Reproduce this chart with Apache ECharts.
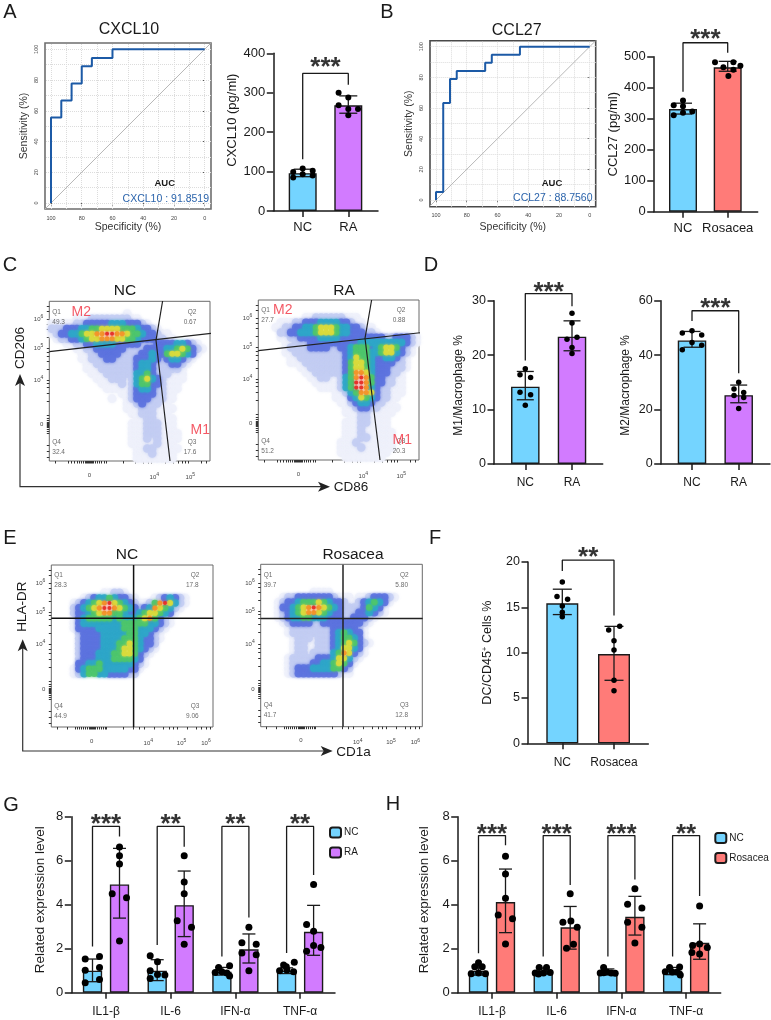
<!DOCTYPE html>
<html><head><meta charset="utf-8">
<style>html,body{margin:0;padding:0;background:#fff}#c{width:771px;height:1020px}</style>
<script src="https://cdn.jsdelivr.net/npm/echarts@6/dist/echarts.min.js"></script>
</head><body><div id="c"></div>
<script>
// ---------- DATA ----------
const rocTicks=[100,80,60,40,20,0];
const rocGridValues=[100,90,80,70,60,50,40,30,20,10,0];
const rocCxcl10=[[100,0],[100,55.6],[93.3,55.6],[93.3,66.7],[86.6,66.7],[86.6,77.8],[80,77.8],[80,88.9],[73.4,88.9],[73.4,94.4],[60,94.4],[60,100],[0,100]];
const rocCcl27=[[100,0],[100,5.3],[95.3,5.3],[95.3,63.2],[90.9,63.2],[90.9,78.9],[86.5,78.9],[86.5,84.2],[68,84.2],[68,89.5],[63.7,89.5],[63.7,94.7],[45.4,94.7],[45.4,100],[0,100]];

const cxcl10Means=[96,268], cxcl10Lo=[87,248], cxcl10Hi=[106,292];
const cxcl10NC=[108,102,99,93,90,85], cxcl10RA=[300,288,268,259,259,243];
const ccl27Means=[331,466], ccl27Lo=[315,453], ccl27Hi=[350,485];
const ccl27NC=[359,343,340,323,319,311], ccl27Ros=[482,482,471,466,458,438];
const m1Means=[14.2,23.4], m1Lo=[11.8,20.8], m1Hi=[17,26.3];
const m1NC=[17.5,16.4,15.9,13.2,12.7,10.8], m1RA=[27.7,25.9,23.3,22.9,21.4,20.3];
const m2Means=[45.4,25.3], m2Lo=[42.9,22.5], m2Hi=[48.7,29];
const m2NC=[49,48.1,47.4,44.6,43.6,42], m2RA=[30,27.6,26.3,25.2,24.4,20.4];
const dcMeans=[15.44,9.85], dcLo=[14.2,6.95], dcHi=[17,12.9];
const dcNC=[17.8,16.2,15.9,15.15,14.45,13.97], dcRos=[12.9,12.5,11.3,10.3,6.95,5.8];

const geneCats=['IL1-β','IL-6','IFN-α','TNF-α'];
const gNCMeans=[1,1,0.95,1], gNCLo=[0.5,0.55,0.8,0.87], gNCHi=[1.53,1.5,1.15,1.13];
const gRAMeans=[4.92,3.98,1.97,2.77], gRALo=[3.39,2.55,1.35,1.7], gRAHi=[6.56,5.53,2.67,3.97];
const gNCPts=[[1.53,1.64,1.02,1.15,0.6,0.45],[1.68,1.41,1,0.83,0.8,0.65],[1.23,1.15,0.95,0.92,0.9,0.76],[1.38,1.26,1.18,1.03,1,0.95]];
const gRAPts=[[6.62,6.23,5.85,4.5,4.32,2.35],[6.23,5.03,4.5,3.27,2.97,2.2],[2.97,2.27,2.2,1.8,1.73,1],[4.92,3.1,2.79,2.15,2.05,1.88]];
const hNCMeans=[1,1,0.95,1], hNCLo=[0.8,0.85,0.82,0.82], hNCHi=[1.2,1.12,1.08,1.15];
const hRosMeans=[4.12,2.97,3.45,2.27], hRosLo=[2.73,1.98,2.62,1.52], hRosHi=[5.62,3.92,4.38,3.13];
const hNCPts=[[1.36,1.18,1.18,0.9,0.86,0.86],[1.15,1.15,0.92,0.9,0.9,0.85],[1.15,0.94,0.91,0.9,0.9,0.88],[1.17,1.15,0.95,0.94,0.94,0.8]];
const hRosPts=[[6.2,5.39,4.29,3.53,3.36,2.21],[4.5,3.26,3.2,2.98,2.2,2.02],[4.73,4.02,3.85,3.2,2.97,2.26],[3.94,2.21,2.15,2.05,1.83,1.76]];

// density, one digit per cell (0 empty .. 8 hottest), top row first
const densC1=['','','00000000000000010000000000000000','00000111222222221100000000000000','11111223333344433321000000000000','22233344556666555433210000000000','12334456677887765543321100000000','01223345667776655433322110000000','00011223344443333322233334432100','00000112233333322223333445653210','00000011223333222233433566543100','00000011222332222333432344321000','00000001122222222344322233210000','00000001112222222344322222100000','00000000111222222445322211100000','00000000011122212456432111100000','00000000001111212455332111000000','00000000000111112344322111000000','00000000000000112333322110000000','00000000000010012333222110000000','00000000000000011232221100000000','00000000000000011122211110000000','00000000000000001122211100000000','00000000000000000112211110000000','00000000000000001112221110000000','00000000000000001112221110000000','00000000000000001112221111000000','00000000000000001112121111000000','00000000000000001111121110000000','00000000000000000112211111000000','00000000000000000111211110000000','00000000000000000111111110000000'];
const densC2=['','','','00000000011222222111000000000000','00001112233344443321100000000000','00011223344566654433211000000000','00002233444566654433322100000000','00001122333344443333333332233321','00000112223333333333444444444321','00000122223333223345553456653210','00000112222222222345554456643210','00000011222222222346554334432100','00000011122222222356654333322100','00000000112222222356654333222100','00000000011222222357764333221000','00000000001122112457875332211000','00000000000111112458875332211000','00000000000011112458874322111000','00000000000000011245776322111000','00000000000000011134654322110000','00000000000000001123443221100000','00000000000000000112332211110000','00000000000000000111221111100000','00000000000000000011221111000000','00000000000000000111221111000000','00000000000000000111211111000000','00000000000000000111211111100000','00000000000000000111221111100000','00000000000000001112111111100000','00000000000000001111211111100000','00000000000000001111111111000000','00000000000000000111111110000000'];
const densE1=['','','','','','00000000001122100000000000000000','00000012344543321000123432100000','00001234567865432112578642100000','00002345678876543234765421000000','00002334567755433456654310000000','00001345555545444567532100000000','00001344444444555554432100000000','00001333344444555444321000000000','00000233334444455443210000000000','00000233334444555433210000000000','00000233334445565433200000000000','00000233334445665432100000000000','00000233344455665321000000000000','00000233344455554310000000000000','00000334454444443210000000000000','00001345554444433100000000000000','00001245544333322000000000000000'];
const densE2=['','','','','','00000000001111000000000000000000','00001223333333211101123332100000','00012334555654332112345431000000','00013345678765432222354310000000','00012345677654332223343210000000','00012344554443332233321000000000','00001233332233333333210000000000','00000122222222333332100000000000','00000122222222345433100000000000','00000012221222345543100000000000','00000012211222345653210000000000','00000012211222346643100000000000','00000012212222457632100000000000','00000122222333466421000000000000','00000122223344565310000000000000','00000123334444553200000000000000','00000123333333321100000000000000'];

// flow axis ticks, in channel units across the plot box
const flowXTicksC=[6,19,22,25,28,30,32,34,36,37,38,39,40,41,42,43,44,46,48,50,52,55,57,74,86,94,99,101.7,116,124,129,133,136,139,152,157];
const flowYTicksC=[4,10,16,28,30,32,34,35,36,37,38,39,41,43,46,60,68,74,78,81,92,100,105,109,112.7,124,132,137,141.7,150,155];
const flowXTicksE=[6,16,24,26,28,30,32,34,36,38,39,40,41,42,43,44,46,48,50,52,54,55,72,82,88,92.7,103,112,118,122,126,136,145,150,155,158.7];
const flowYTicksE=[4,10,16,28,30,32,34,35,36,37,38,39,41,43,46,60,68,74,78,82.7,94,102,108,112,115,126,134,139,143.7,152,157];
const flowLabelsC1x=[[40,'0'],[105,'10{s|4}'],[141,'10{s|5}']];
const flowLabelsC2x=[[40,'0'],[105,'10{s|4}'],[143,'10{s|5}']];
const flowLabelsCy=[[36.7,'0'],[81,'10{s|4}'],[112.7,'10{s|5}'],[141.7,'10{s|6}']];
const flowLabelsEx=[[40.3,'0'],[97,'10{s|4}'],[130.3,'10{s|5}'],[154.7,'10{s|6}']];
const flowLabelsEy=[[37.3,'0'],[82.7,'10{s|4}'],[115,'10{s|5}'],[143.7,'10{s|6}']];

const gateC1h=[[0,109.3],[162,127.7]], gateC1v=[[113.3,160],[106.7,120.7],[120.7,0]];
const gateC2h=[[0,109.3],[162,127.3]], gateC2v=[[113.3,160],[106.7,121.7],[121.7,0]];
const gateE1h=[[0,108.7],[162,108.7]], gateE1v=[[82.3,162],[82.3,0]];
const gateE2h=[[0,108.3],[162,108.3]], gateE2v=[[82.3,162],[82.3,0]];
const pctC1=['49.3','0.67','17.6','32.4'], pctC2=['27.7','0.88','20.3','51.2'];
const pctE1=['28.3','17.8','9.06','44.9'], pctE2=['39.7','5.80','12.8','41.7'];

// ---------- STYLE ----------
const FONT='"Liberation Sans", Arial, sans-serif';
const BLUE='#74d4ff', PURPLE='#d27bff', RED='#ff7b78', INK='#1a1a1a';
const densColors=['#fff','#eef1fb','#c3cdf3','#5d73df','#2fa6c9','#4cc56c','#d8da3a','#f39226','#e62a22'];
const densSizes=[0,9,8.5,8,7.5,6.5,6,5,4];

const grid=[],xAxis=[],yAxis=[],series=[],graphic=[],title=[];
const text=(s,x,y,size,o={})=>graphic.push({type:'text',x,y,rotation:o.rot||0,z:20,style:{text:s,fill:o.color||INK,font:`${o.bold?'bold ':''}${size}px ${FONT}`,textAlign:o.align||'center',textVerticalAlign:'middle'}});
const head=(s,x,y,size)=>title.push({text:s,left:x,top:y,textAlign:'center',textVerticalAlign:'middle',padding:0,textStyle:{fontFamily:FONT,fontWeight:'normal',fontSize:size,color:INK}});

// ---------- ROC ----------
function roc(r,pts,x100,x0,y100,y0,label,nameX,nameY,border){
  const [l,t,rt,b]=r, ux=(x0-x100)/100, uy=(y0-y100)/100, g=grid.length;
  grid.push({left:l,top:t,width:rt-l,height:b-t,show:true,borderColor:border,borderWidth:1.6,backgroundColor:'#fff'});
  const lab={customValues:rocTicks,fontSize:5.5,color:'#444',fontFamily:FONT,margin:6};
  xAxis.push({type:'value',gridIndex:g,inverse:true,min:-(rt-x0)/ux,max:100+(x100-l)/ux,splitLine:{show:false},axisLine:{show:false},
    axisTick:{customValues:rocTicks,length:2.5,lineStyle:{color:'#555',width:1}},axisLabel:lab,nameMoveOverlap:false,
    name:'Specificity (%)',nameLocation:'middle',nameGap:nameX,nameTextStyle:{fontFamily:FONT,fontSize:10.5,color:'#333'}});
  yAxis.push({type:'value',gridIndex:g,min:-(b-y0)/uy,max:100+(y100-t)/uy,splitLine:{show:false},axisLine:{show:false},
    axisTick:{customValues:rocTicks,length:2.5,lineStyle:{color:'#555',width:1}},axisLabel:{...lab,rotate:90},nameMoveOverlap:false,
    name:'Sensitivity (%)',nameLocation:'middle',nameGap:nameY,nameTextStyle:{fontFamily:FONT,fontSize:10.5,color:'#333'}});
  const xi=xAxis.length-1, yi=yAxis.length-1;
  const gl=d=>({type:'line',name:'grid',xAxisIndex:xi,yAxisIndex:yi,data:[],silent:true,z:1,markLine:{silent:true,z:1,symbol:'none',label:{show:false},animation:false,
     lineStyle:{color:'#dcdcdc',type:'dotted',width:1},data:d}});
  series.push(gl(rocGridValues.map(v=>({xAxis:v})).concat(rocGridValues.map(v=>({yAxis:v})))));
  series.push({type:'line',name:'chance',xAxisIndex:xi,yAxisIndex:yi,showSymbol:false,silent:true,lineStyle:{color:'#b8b8b8',width:1},data:[[103.9,-3.9],[-3.9,103.9]],z:3});
  series.push({type:'line',name:label,xAxisIndex:xi,yAxisIndex:yi,showSymbol:false,silent:true,lineStyle:{color:'#1c5aa6',width:2},data:pts,z:4});
}
roc([45,43,211,209],rocCxcl10,51,204.7,49.3,203,'CXCL10',13,15,'#6e6e6e');
roc([430,40.7,595.7,206.7],rocCcl27,436,589.7,46.7,200,'CCL27',15,15,'#4a4a4a');
text('AUC',164.7,183,9.5,{bold:true});
text('CXCL10 : 91.8519',209,199,10.5,{align:'right',color:'#2b64ac'});
text('AUC',552,183,9.5,{bold:true});
text('CCL27 : 88.7560',592.5,198.5,10.5,{align:'right',color:'#2b64ac'});

// ---------- BAR PANELS ----------
function panel(c){
  const [l,t,r,b]=c.rect, g=grid.length, u=c.centers[1]-c.centers[0];
  const xmin=1-(c.centers[0]-l)/u, xmax=xmin+(r-l)/u;
  const lw=1.5;
  grid.push({left:l,top:t,width:r-l,height:b-t});
  const slots=c.cats.map((_,i)=>i+1);
  xAxis.push({type:'value',gridIndex:g,min:xmin,max:xmax,splitLine:{show:false},
    axisLine:{onZero:false,lineStyle:{color:INK,width:lw}},axisTick:{customValues:slots,length:6,lineStyle:{color:INK,width:lw}},
    axisLabel:{customValues:slots,formatter:v=>c.cats[Math.round(v)-1]||'',fontSize:c.catFont||12,color:INK,fontFamily:FONT,margin:c.catMargin}});
  yAxis.push({type:'value',gridIndex:g,min:0,max:c.ymax,interval:c.step,splitLine:{show:false},
    axisLine:{show:true,onZero:false,lineStyle:{color:INK,width:lw}},axisTick:{show:true,length:6.5,lineStyle:{color:INK,width:lw}},
    axisLabel:{fontSize:c.tickFont||13,color:INK,fontFamily:FONT,margin:8},nameMoveOverlap:false,
    name:c.yName,nameLocation:'middle',nameGap:c.nameGap,
    nameTextStyle:{fontFamily:FONT,fontSize:c.nameFont||12.5,color:INK,padding:c.namePad||0,rich:{s:{fontSize:8,padding:[0,0,5,0],fontFamily:FONT,color:INK}}}});
  const xi=xAxis.length-1, yi=yAxis.length-1;
  const pos=(s,off)=>s+(off||0)/u;
  c.groups.forEach(gr=>{
    const xs=gr.slots.map(s=>pos(s,gr.offset));
    series.push({type:'bar',name:gr.name,xAxisIndex:xi,yAxisIndex:yi,barWidth:c.barW,barGap:'-100%',silent:true,
      itemStyle:{color:gr.color,borderColor:INK,borderWidth:1.4},data:gr.means.map((m,i)=>[xs[i],m]),z:2});
    series.push({type:'custom',name:'sd',xAxisIndex:xi,yAxisIndex:yi,silent:true,z:3,clip:false,
      data:gr.means.map((m,i)=>[xs[i],gr.lo[i],gr.hi[i]]),encode:{x:0,y:[1,2]},
      renderItem:(p,api)=>{
        const a=api.coord([api.value(0),api.value(1)]),h=api.coord([api.value(0),api.value(2)]),w=c.cap/2;
        const st={stroke:INK,lineWidth:1.3,fill:null};
        return {type:'group',children:[
          {type:'line',shape:{x1:a[0],y1:a[1],x2:h[0],y2:h[1]},style:st},
          {type:'line',shape:{x1:a[0]-w,y1:a[1],x2:a[0]+w,y2:a[1]},style:st},
          {type:'line',shape:{x1:h[0]-w,y1:h[1],x2:h[0]+w,y2:h[1]},style:st}]};
      }});
    const dots=[];
    gr.points.forEach((pts,i)=>pts.forEach((v,k)=>dots.push([pos(gr.slots[i],(gr.offset||0)+gr.jitter[i][k]),v])));
    series.push({type:'scatter',name:'points',xAxisIndex:xi,yAxisIndex:yi,silent:true,z:4,clip:false,symbolSize:c.dot,itemStyle:{color:'#000',opacity:1},data:dots});
  });
  c.brackets.forEach(bk=>{
    const x1=pos(bk.s1,bk.o1),x2=pos(bk.s2,bk.o2);
    series.push({type:'line',name:'bracket',xAxisIndex:xi,yAxisIndex:yi,silent:true,z:5,clip:false,showSymbol:false,
      lineStyle:{color:INK,width:1.3},data:[[x1,bk.start],[x1,bk.top],[x2,bk.top],[x2,bk.end]]});
    series.push({type:'scatter',name:'sig',xAxisIndex:xi,yAxisIndex:yi,silent:true,z:5,clip:false,symbolSize:0,
      data:[[(x1+x2)/2,bk.starY]],label:{show:true,position:'inside',formatter:bk.stars,fontFamily:FONT,fontWeight:'bold',fontSize:26,color:'#000',offset:[0,5],lineHeight:26}});
  });
}
function twoBar(c,means,lo,hi,ptsA,ptsB,jA,jB,n2,col2,br){
  panel({...c,groups:[
    {name:c.key+' NC',slots:[1],color:BLUE,means:[means[0]],lo:[lo[0]],hi:[hi[0]],points:[ptsA],jitter:[jA]},
    {name:c.key+' '+n2,slots:[2],color:col2,means:[means[1]],lo:[lo[1]],hi:[hi[1]],points:[ptsB],jitter:[jB]}],
    brackets:[{s1:1,s2:2,...br}]});
}
twoBar({key:'a',rect:[273.3,53.3,378,211],centers:[302.7,348.3],cats:['NC','RA'],ymax:400,step:100,barW:28,cap:18,dot:6,catFont:13,catMargin:9.5,yName:'CXCL10 (pg/ml)',nameGap:34.5,nameFont:13,namePad:[0,0,0,24]},
  cxcl10Means,cxcl10Lo,cxcl10Hi,cxcl10NC,cxcl10RA,[0,10,-9.5,0,10,-9.5],[-9.7,0,-9.7,0,9.7,0],'RA',PURPLE,{start:131,top:349,end:320,starY:375,stars:'***'});
twoBar({key:'b',rect:[653.7,56.7,757.7,211.7],centers:[683,727.7],cats:['NC','Rosacea'],ymax:500,step:100,barW:28,cap:18,dot:6,catFont:13,catMargin:10,yName:'CCL27 (pg/ml)',nameGap:34,nameFont:13},
  ccl27Means,ccl27Lo,ccl27Hi,ccl27NC,ccl27Ros,[0,-9.3,0,9.3,0,-9.3],[-12.7,5.7,12.7,-4.3,5.7,0.7],'Rosacea',RED,{start:387,top:545,end:513,starY:570,stars:'***'});
twoBar({key:'d1',rect:[494,300.7,602.7,464],centers:[525.3,572],cats:['NC','RA'],ymax:30,step:10,barW:28.5,cap:17,dot:5.5,catFont:12,catMargin:12.5,tickFont:12.5,yName:'M1/Macrophage %',nameGap:29,nameFont:12,namePad:[0,6,0,0]},
  m1Means,m1Lo,m1Hi,m1NC,m1RA,[0,-5.3,5.3,-5.3,5.3,0],[0,0,5,-5,0,0],'RA',PURPLE,{start:19,top:31.3,end:29,starY:32.3,stars:'***'});
twoBar({key:'d2',rect:[660.7,300.7,770,464],centers:[692,738.7],cats:['NC','RA'],ymax:60,step:20,barW:28.5,cap:17,dot:5.5,catFont:12,catMargin:12.5,tickFont:12.5,yName:'M2/Macrophage %',nameGap:29,nameFont:12,namePad:[0,6,0,0]},
  m2Means,m2Lo,m2Hi,m2NC,m2RA,[0,-9.7,9.7,0,9.7,-9.7],[0,-4.7,5,-4.7,5,0],'RA',PURPLE,{start:52.5,top:56.3,end:33.3,starY:58.7,stars:'***'});
twoBar({key:'f',rect:[528,562,648.3,743.3],centers:[562.3,614],cats:['NC','Rosacea'],ymax:20,step:5,barW:32,cap:19,dot:5.5,catFont:12,catMargin:13.5,tickFont:12.5,yName:'DC/CD45{s|+} Cells %',nameGap:34,nameFont:12.5},
  dcMeans,dcLo,dcHi,dcNC,dcRos,[0,-5.3,5.3,0,0,0],[5.7,-5.3,0,0,0,0],'Rosacea',RED,{start:19,top:20.2,end:14.1,starY:21,stars:'**'});

const gJitNC=[[-7.3,7,-7.3,7,7,-7.3],[-7,0.3,-7,0.3,7.7,-7],[7.7,-3.3,0,-6.7,5,7.7],[7.7,-3,-0.3,0.3,-7,7]];
const gJitRA=[[0,0,0,-7.3,7,0],[0,0,0,-7,7.3,0],[0,-7,7.3,-7,7.3,0],[0,-7,0,0,7.3,-7]];
const hJitNC=[[0,-3.7,3.7,0,-7.3,7],[-4,3.3,7,0.3,-8,-4.7],[-4.3,-1,-4.3,-7.7,3.3,7.3],[7,-3,-7.3,-0.3,4.7,7.7]];
const hJitRos=[[0,0,0,-7.3,7,0],[0,0.7,-7.3,7,3.3,-3.7],[0,-7.3,7,-7.3,7,0],[0,0,-7,7.7,-7.7,0]];
const sl=[1,2,3,4];
const gBr=[[2.1,7.1,'***'],[2.17,6.63,'**'],[1.64,3.42,'**'],[1.8,5.35,'**']];
const hBr=[[1.79,6.7,'***'],[1.64,4.9,'***'],[1.64,5.15,'***'],[1.64,4.4,'**']];
panel({rect:[71.3,816.7,335,992.7],centers:[106,170.7],cats:geneCats,ymax:8,step:2,barW:19.3,cap:13,dot:7,catFont:12,catMargin:13,tickFont:13,yName:'Related expression level',nameGap:24.5,nameFont:13.5,namePad:[0,0,0,10],
  groups:[{name:'NC',slots:sl,offset:-13.5,color:BLUE,means:gNCMeans,lo:gNCLo,hi:gNCHi,points:gNCPts,jitter:gJitNC},
          {name:'RA',slots:sl,offset:13.5,color:PURPLE,means:gRAMeans,lo:gRALo,hi:gRAHi,points:gRAPts,jitter:gJitRA}],
  brackets:gBr.map((b,i)=>({s1:i+1,o1:-13.5,s2:i+1,o2:13.5,start:b[0],end:b[1],top:7.56,starY:7.85,stars:b[2]}))});
panel({rect:[457.7,816.7,720.7,992.7],centers:[492,556.7],cats:geneCats,ymax:8,step:2,barW:19.3,cap:13,dot:7,catFont:12,catMargin:13,tickFont:13,yName:'Related expression level',nameGap:26,nameFont:13.5,namePad:[0,0,0,10],
  groups:[{name:'NC',slots:sl,offset:-13.5,color:BLUE,means:hNCMeans,lo:hNCLo,hi:hNCHi,points:hNCPts,jitter:hJitNC},
          {name:'Rosacea',slots:sl,offset:13.5,color:RED,means:hRosMeans,lo:hRosLo,hi:hRosHi,points:hRosPts,jitter:hJitRos}],
  brackets:hBr.map((b,i)=>({s1:i+1,o1:-13.5,s2:i+1,o2:13.5,start:b[0],end:b[1],top:7.14,starY:7.42,stars:b[2]}))});

const legend=[
 {data:['NC','RA'],left:329,top:826.5,orient:'vertical',itemWidth:11,itemHeight:10,itemGap:8,padding:0,selectedMode:false,textStyle:{fontFamily:FONT,fontSize:10,color:INK,padding:[0,0,0,-2]}},
 {data:['NC','Rosacea'],left:714.3,top:832,orient:'vertical',itemWidth:11,itemHeight:10,itemGap:8,padding:0,selectedMode:false,textStyle:{fontFamily:FONT,fontSize:10,color:INK,padding:[0,0,0,-2]}}
];

// ---------- FLOW PLOTS ----------
function flow(c){
  const [l,t,r,b]=c.rect, g=grid.length, W=r-l, H=b-t;
  grid.push({left:l,top:t,width:W,height:H,show:true,borderColor:'#6a6a6a',borderWidth:1,backgroundColor:'#fff'});
  const lab=(list)=>({customValues:list.map(d=>d[0]),formatter:v=>(list.find(d=>Math.abs(d[0]-v)<.01)||[,''])[1],
    fontSize:6,color:'#444',fontFamily:FONT,rich:{s:{fontSize:5,padding:[0,0,5,0],color:'#444',fontFamily:FONT}}});
  const tick=(list)=>({customValues:list,length:2.5,lineStyle:{color:'#333',width:1}});
  xAxis.push({type:'value',gridIndex:g,min:0,max:W,splitLine:{show:false},axisLine:{show:false},axisTick:tick(c.xt),axisLabel:{...lab(c.xl),margin:11}});
  yAxis.push({type:'value',gridIndex:g,min:0,max:H,splitLine:{show:false},axisLine:{show:false},axisTick:tick(c.yt),axisLabel:{...lab(c.yl),margin:6}});
  const xv=xAxis.length-1, yv=yAxis.length-1;
  const n=32, cw=W/n, ch=H/n;
  const cells=[];
  c.dens.forEach((row,ri)=>{for(let ci=0;ci<row.length;ci++){const v=+row[ci]; if(v>0)cells.push({value:[(ci+.5)*cw,H-(ri+.5)*ch],lv:v});}});
  cells.sort((a,b)=>a.lv-b.lv);
  series.push({type:'scatter',name:'density',xAxisIndex:xv,yAxisIndex:yv,silent:true,z:2,clip:true,
    data:cells.map(d=>({value:d.value,symbolSize:densSizes[d.lv],itemStyle:{color:densColors[d.lv],opacity:.9,shadowBlur:3,shadowColor:densColors[d.lv]}}))});
  [c.gh,c.gv].forEach(pts=>series.push({type:'line',name:'gate',xAxisIndex:xv,yAxisIndex:yv,showSymbol:false,silent:true,z:4,lineStyle:{color:c.gateColor||'#222',width:c.gateW||1.2},data:pts}));
  const top1=H-10.7,top2=H-20.7,bot1=21-(162-H)/1,bot2=11-(162-H)/1;
  const qx=c.qx||142.7, vx=c.vx||140.7;
  const q=[{value:[3,top1],t:'Q1',a:'left'},{value:[3,top2],t:c.pct[0],a:'left'},{value:[qx,top1],t:'Q2'},{value:[vx,top2],t:c.pct[1]},
           {value:[qx,bot1],t:'Q3'},{value:[vx,bot2],t:c.pct[2]},{value:[3,bot1],t:'Q4',a:'left'},{value:[3,bot2],t:c.pct[3],a:'left'}]
     .map(d=>({value:d.value,t:d.t,label:{align:d.a||'center'}}));
  series.push({type:'scatter',name:'gates',xAxisIndex:xv,yAxisIndex:yv,symbolSize:0,silent:true,z:5,clip:false,data:q,
    label:{show:true,position:'inside',formatter:p=>p.data.t,fontSize:6.5,color:'#444',fontFamily:FONT}});
  if(c.marks)series.push({type:'scatter',name:'M',xAxisIndex:xv,yAxisIndex:yv,symbolSize:0,silent:true,z:6,clip:false,
    data:c.marks.map(m=>({value:[m[1],m[2]],t:m[0]})),label:{show:true,position:'inside',formatter:p=>p.data.t,fontSize:14,color:'#f1303e',fontFamily:FONT}});
}
flow({rect:[49.3,301.3,210,461],dens:densC1,xt:flowXTicksC,yt:flowYTicksC,xl:flowLabelsC1x,yl:flowLabelsCy,gh:gateC1h,gv:gateC1v,pct:pctC1,marks:[['M2',32,149],['M1',151,31]]});
flow({rect:[258.3,300,419,460],dens:densC2,xt:flowXTicksC,yt:flowYTicksC,xl:flowLabelsC2x,yl:flowLabelsCy,gh:gateC2h,gv:gateC2v,pct:pctC2,marks:[['M2',24.5,150],['M1',144,20]]});
flow({rect:[51.3,565,213,727],dens:densE1,xt:flowXTicksE,yt:flowYTicksE,xl:flowLabelsEx,yl:flowLabelsEy,gh:gateE1h,gv:gateE1v,pct:pctE1,qx:143.7,vx:141,gateW:1.5,gateColor:'#111'});
flow({rect:[260.7,564.3,422.3,726.7],dens:densE2,xt:flowXTicksE,yt:flowYTicksE,xl:flowLabelsEx,yl:flowLabelsEy,gh:gateE2h,gv:gateE2v,pct:pctE2,qx:143.7,vx:141,gateW:1.5,gateColor:'#222'});

function arrows(x,yTip,yC,xTip){
  graphic.push({type:'polyline',z:15,shape:{points:[[x,yTip+8],[x,yC],[xTip-8,yC]]},style:{stroke:'#333',fill:null,lineWidth:1.2}});
  graphic.push({type:'polygon',z:15,shape:{points:[[x,yTip],[x+5,yTip+12],[x,yTip+9],[x-5,yTip+12]]},style:{fill:'#222'}});
  graphic.push({type:'polygon',z:15,shape:{points:[[xTip,yC],[xTip-12,yC+5],[xTip-9,yC],[xTip-12,yC-5]]},style:{fill:'#222'}});
}
arrows(20,374,486.7,330);
arrows(22.7,639.3,751,332.7);
text('CD206',20,348,13.5,{rot:Math.PI/2});
text('CD86',351,487,13.5);
text('HLA-DR',22.3,606.7,13.5,{rot:Math.PI/2});
text('CD1a',353.5,752,13.5);

// ---------- TITLES ----------
head('CXCL10',129,30,16); head('CCL27',516.7,30.7,16);
head('NC',125,290.7,15.5); head('RA',344,291,15.5);
head('NC',127,554.3,15.5); head('Rosacea',353,554.7,15.5);
[['A',10,12.5],['B',387,12],['C',10,265],['D',431,265],['E',10,538],['F',435,538],['G',11,805],['H',393,804]].forEach(h=>head(h[0],h[1],h[2],20));

const chart=echarts.init(document.getElementById('c'),null,{renderer:'canvas',width:771,height:1020});
chart.setOption({animation:false,backgroundColor:'#fff',title,legend,grid,xAxis,yAxis,series,graphic,tooltip:{show:false}});
</script></body></html>
